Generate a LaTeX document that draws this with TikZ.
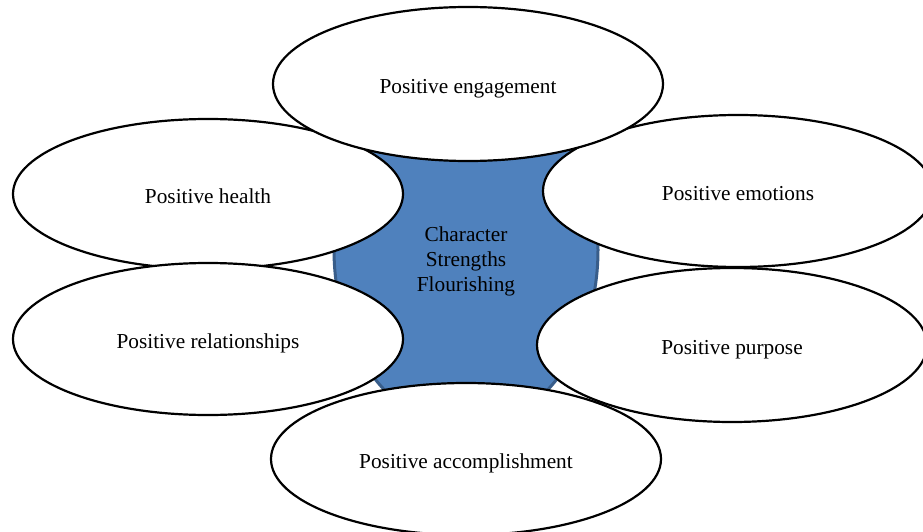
\documentclass[tikz,border=0pt]{standalone}
\usepackage{fontspec}
\setmainfont{Liberation Serif}
\usetikzlibrary{shapes.geometric}
\definecolor{corefill}{HTML}{4F81BD}
\definecolor{coreline}{HTML}{385D8A}
\tikzset{
  petal/.style={ellipse, draw=black, line width=2.2pt, fill=white, inner sep=0pt,
    minimum width=390pt, text height=19pt, text depth=0pt,
    font=\fontsize{21.3}{25}\selectfont},
  core/.style={ellipse, draw=coreline, line width=3pt, fill=corefill, inner sep=0pt,
    minimum width=264pt, minimum height=356pt},
  coretext/.style={align=center, inner sep=0pt, font=\fontsize{21.3}{25}\selectfont}
}
\begin{document}
\begin{tikzpicture}[x=1pt,y=-1pt]
  \clip (0,0) rectangle (923,532);
  \fill[white] (0,0) rectangle (923,532);
  % central shape
  \node[core] (centre) at (466,250) {};
  \node[coretext] (centrelabel) at (466,261.5) {Character\\Strengths\\Flourishing};
  % surrounding ellipses
  \node[petal, minimum height=150pt] (health) at (208,194) {Positive health};
  \node[petal, minimum height=152pt] (relations) at (208,339) {Positive relationships};
  \node[petal, minimum height=152pt] (emotions) at (738,191) {Positive emotions};
  \node[petal, minimum height=154pt] (purpose) at (732,345) {Positive purpose};
  \node[petal, minimum height=154pt] (engage) at (468,84) {Positive engagement};
  \node[petal, minimum height=152pt] (accomp) at (466,459) {Positive accomplishment};
\end{tikzpicture}
\end{document}
